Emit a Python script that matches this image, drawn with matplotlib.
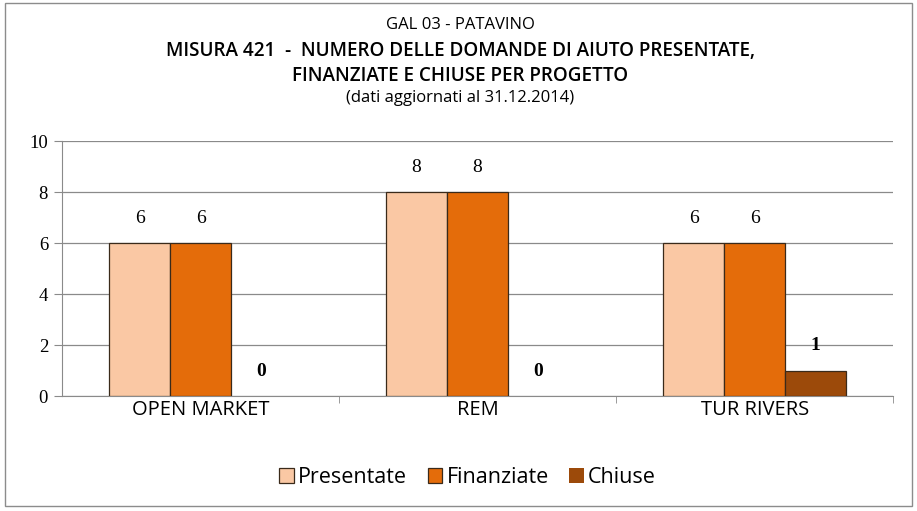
import matplotlib
matplotlib.use("Agg")
import matplotlib.pyplot as plt
import numpy as np
from matplotlib.patches import Rectangle

categories = ["OPEN MARKET", "REM", "TUR RIVERS"]
series_names = ["Presentate", "Finanziate", "Chiuse"]
presentate = [6, 8, 6]
finanziate = [6, 8, 6]
chiuse = [0, 0, 1]
yticks = [0, 2, 4, 6, 8, 10]
title_lines = ["GAL 03 - PATAVINO",
               "MISURA 421  -  NUMERO DELLE DOMANDE DI AIUTO PRESENTATE,",
               "FINANZIATE E CHIUSE PER PROGETTO",
               "(dati aggiornati al 31.12.2014)"]

colors = ["#FAC8A4", "#E46C0A", "#9C4A0A"]
series = [presentate, finanziate, chiuse]

fig = plt.figure(figsize=(9.17, 5.11), dpi=100)
fig.patches.append(Rectangle((0.005, 0.01), 0.99, 0.985, transform=fig.transFigure,
                             fill=False, edgecolor="#8c8c8c", linewidth=1.0))
ax = fig.add_axes([0.0676, 0.225, 0.9064, 0.499])

x = np.arange(len(categories))
w = 0.22
for i, (vals, c, name) in enumerate(zip(series, colors, series_names)):
    pos = x + (i - 1) * w
    bars = ax.bar(pos, vals, width=w, color=c, edgecolor="#3a2a1a", linewidth=0.9,
                  label=name, zorder=3)
    for b, v in zip(bars, vals):
        if v == 0:
            b.set_linewidth(0)
    for p, v in zip(pos, vals):
        ax.annotate(str(v), (p, v), xytext=(0, 18), textcoords="offset points",
                    ha="center", va="center", fontsize=14,
                    family="Liberation Serif",
                    fontweight="bold" if v < 2 else "normal", zorder=4)

ax.set_xlim(-0.5, 2.5)
ax.set_ylim(0, 10)
ax.set_yticks(yticks)
ax.set_yticklabels([str(t) for t in yticks], family="Liberation Serif", fontsize=13.5)
ax.yaxis.grid(True, color="#8a8a8a", linewidth=0.9, zorder=0)
ax.set_axisbelow(True)
ax.set_xticks(x)
ax.set_xticklabels(categories, family="Open Sans", fontsize=14.5)
ax.tick_params(axis="x", length=0, pad=3)
ax.set_xticks([0.5, 1.5, 2.5], minor=True)
ax.tick_params(axis="x", which="minor", length=5, color="#8a8a8a", direction="out")
ax.tick_params(axis="y", length=6, color="#8a8a8a", pad=4)
for s in ["top", "right"]:
    ax.spines[s].set_visible(False)
ax.spines["left"].set_color("#8a8a8a")
ax.spines["bottom"].set_color("#8a8a8a")

ys = [0.952, 0.901, 0.852, 0.808]
sizes = [12, 13.6, 13.6, 12]
weights = ["normal", "semibold", "semibold", "normal"]
for t, yy, s, wt in zip(title_lines, ys, sizes, weights):
    fig.text(0.502, yy, t, ha="center", va="center", fontsize=s,
             family="Open Sans", fontweight=wt)

leg = fig.legend(loc="center", bbox_to_anchor=(0.510, 0.066), ncol=3, frameon=False,
                 prop={"family": "Open Sans", "size": 15.5}, handlelength=0.68,
                 handleheight=0.68, handletextpad=0.2, columnspacing=0.95)

fig.savefig("out.png", dpi=100)
